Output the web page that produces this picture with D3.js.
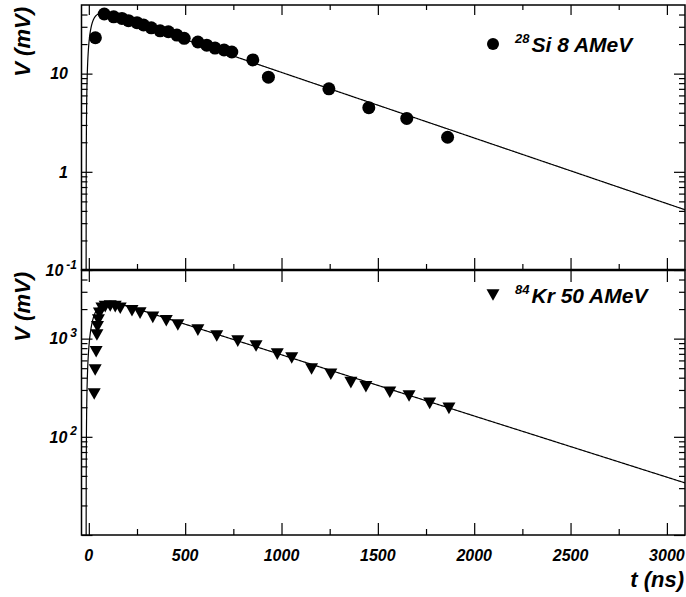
<!DOCTYPE html>
<html>
<head>
<meta charset="utf-8">
<script src="https://cdn.jsdelivr.net/npm/d3@7"></script>
<style>
  html, body { margin: 0; padding: 0; background: #fff; }
  svg { display: block; }
  text { font-family: "Liberation Sans", Arial, sans-serif; font-weight: bold; font-style: italic; fill: #000; }
</style>
</head>
<body>
<svg id="chart" width="686" height="597"></svg>
<script>
// ---- measured pulse heights ----
// 28Si at 8 AMeV
const siTime = [34, 80, 129, 172, 206, 250, 284, 324, 370, 413, 457, 495, 566, 612, 655, 702, 742, 851, 932, 1246, 1453, 1650, 1862];
const siVolt = [23.2, 40.5, 37.9, 36.5, 34.6, 33.0, 31.3, 29.3, 27.3, 26.7, 24.7, 22.9, 21.0, 19.5, 18.2, 17.4, 16.6, 13.8, 9.2, 7.0, 4.5, 3.5, 2.25];

// 84Kr at 50 AMeV
const krTime = [28, 33, 38, 42, 45, 50, 55, 68, 85, 111, 137, 163, 224, 266, 332, 402, 462, 566, 664, 773, 868, 978, 1053, 1156, 1256, 1360, 1438, 1562, 1662, 1769, 1869];
const krVolt = [273, 480, 736, 1090, 1320, 1546, 1810, 2040, 2116, 2150, 2116, 2040, 1925, 1820, 1645, 1520, 1375, 1222, 1062, 944, 840, 696, 634, 490, 433, 356, 324, 284, 260, 219, 195];

// fitted pulse shape: A * (exp(-(t-t0)/tauDecay) - exp(-(t-t0)/tauRise))
const siFit = [49, -14, 650, 25];     // A, t0, tauDecay, tauRise
const krFit = [2932, -14, 697, 40];

// axis ticks
const xMajor = [0, 500, 1000, 1500, 2000, 2500, 3000];
const xMinor = [250, 750, 1250, 1750, 2250, 2750];
const siDecades = [0.1, 1, 10];
const krDecades = [10, 100, 1000];
const siTickLabels = [{v: 10, base: "10", sup: ""}, {v: 1, base: "1", sup: ""}, {v: 0.1, base: "10", sup: "-1"}];
const krTickLabels = [{v: 1000, base: "10", sup: "3"}, {v: 100, base: "10", sup: "2"}];

const svg = d3.select("#chart");

const L = 81.5, R = 685, T = 5, MID = 270, B = 535;
const x = d3.scaleLinear().domain([-38, 3094]).range([L, R]);
const ySi = d3.scaleLog().domain([0.1, 50]).range([MID, T]);
const yKr = d3.scaleLog().domain([10, 5000]).range([B, MID]);

function minorLog(decades, top) {
  const out = [];
  decades.forEach(d => { for (let k = 2; k <= 9; k++) { const v = d * k; if (v < top * 0.999) out.push(v); } });
  return out;
}

function fitCurve(p, t) {
  const s = t - p[1];
  if (s <= 0) return 0;
  return p[0] * (Math.exp(-s / p[2]) - Math.exp(-s / p[3]));
}

function tickGroup(axis, tx, ty) {
  const g = svg.append("g").attr("transform", `translate(${tx},${ty})`).call(axis);
  g.select(".domain").remove();
  g.selectAll(".tick line").attr("stroke", "#000").attr("stroke-width", 1.2);
  g.selectAll(".tick text").remove();
  return g;
}

function panel(y, yTop, yBot, decades, topVal, topTicksFull, clipId) {
  const minor = minorLog(decades, topVal);
  // left / right log ticks
  tickGroup(d3.axisLeft(y).tickValues(decades).tickSize(-11), L, 0);
  tickGroup(d3.axisLeft(y).tickValues(minor).tickSize(-6), L, 0);
  tickGroup(d3.axisRight(y).tickValues(decades).tickSize(-11), R, 0);
  tickGroup(d3.axisRight(y).tickValues(minor).tickSize(-6), R, 0);
  // bottom ticks
  tickGroup(d3.axisBottom(x).tickValues(xMajor).tickSize(-12), 0, yBot);
  tickGroup(d3.axisBottom(x).tickValues(xMinor).tickSize(-6), 0, yBot);
  // top ticks
  if (topTicksFull) {
    tickGroup(d3.axisTop(x).tickValues(xMajor).tickSize(-10), 0, yTop);
    tickGroup(d3.axisTop(x).tickValues(xMinor).tickSize(-5), 0, yTop);
  } else {
    tickGroup(d3.axisTop(x).tickValues(xMajor).tickSize(-12), 0, yTop);
  }
  svg.append("clipPath").attr("id", clipId).append("rect")
    .attr("x", L).attr("y", yTop).attr("width", R - L).attr("height", yBot - yTop);
}

panel(ySi, T, MID, siDecades, 50, true, "clipSi");
panel(yKr, MID, B, krDecades, 5000, false, "clipKr");

// fit curves
const tSamples = d3.range(-13.99, -12, 0.01).concat(d3.range(-12, 40, 0.25)).concat(d3.range(40, 3100, 5));
function drawFit(p, y, clipId) {
  const line = d3.line()
    .defined(t => fitCurve(p, t) > 0)
    .x(t => x(t))
    .y(t => y(Math.max(fitCurve(p, t), 1e-6)));
  svg.append("path")
    .attr("clip-path", `url(#${clipId})`)
    .attr("d", line(tSamples))
    .attr("fill", "none").attr("stroke", "#000").attr("stroke-width", 1.2);
}
drawFit(siFit, ySi, "clipSi");
drawFit(krFit, yKr, "clipKr");

// markers
svg.append("g").selectAll("circle").data(siTime.map((t, i) => [t, siVolt[i]])).join("circle")
  .attr("cx", d => x(d[0])).attr("cy", d => ySi(d[1])).attr("r", 6.5).attr("fill", "#000");

const tri = "M-6.5,-5.8L6.5,-5.8L0,5.8Z";
svg.append("g").selectAll("path").data(krTime.map((t, i) => [t, krVolt[i]])).join("path")
  .attr("d", tri).attr("transform", d => `translate(${x(d[0])},${yKr(d[1])})`).attr("fill", "#000");

// frames
svg.append("rect").attr("x", L).attr("y", T).attr("width", R - L).attr("height", MID - T)
  .attr("fill", "none").attr("stroke", "#000").attr("stroke-width", 1.5);
svg.append("rect").attr("x", L).attr("y", MID).attr("width", R - L).attr("height", B - MID)
  .attr("fill", "none").attr("stroke", "#000").attr("stroke-width", 1.5);
svg.append("line").attr("x1", L).attr("x2", R).attr("y1", MID).attr("y2", MID)
  .attr("stroke", "#000").attr("stroke-width", 2.5);

// y tick labels
function yLabels(list, y) {
  list.forEach(d => {
    const t = svg.append("text").attr("font-size", 16).attr("text-anchor", "end")
      .attr("x", d.sup ? 77 : 68).attr("y", y(d.v)).attr("dy", "0.36em");
    t.append("tspan").text(d.base);
    if (d.sup) t.append("tspan").attr("font-size", 12).attr("dx", 3).attr("dy", "-0.6em").text(d.sup);
  });
}
yLabels(siTickLabels, ySi);
yLabels(krTickLabels, yKr);

// x tick labels
svg.append("g").selectAll("text").data(xMajor).join("text")
  .attr("x", d => x(d)).attr("y", 561).attr("text-anchor", "middle").attr("font-size", 16)
  .text(d => d);

// axis titles
svg.append("text").attr("transform", `translate(30,${T + 2}) rotate(-90)`)
  .attr("text-anchor", "end").attr("font-size", 22).text("V (mV)");
svg.append("text").attr("transform", `translate(30,${MID + 2}) rotate(-90)`)
  .attr("text-anchor", "end").attr("font-size", 22).text("V (mV)");
svg.append("text").attr("x", 684).attr("y", 587).attr("text-anchor", "end").attr("font-size", 22).text("t (ns)");

// legends
function legend(yc, label, iso) {
  const t = svg.append("text").attr("x", 515).attr("y", yc + 8).attr("font-size", 21);
  t.append("tspan").attr("font-size", 13).attr("dy", -9).text(iso);
  t.append("tspan").attr("dx", 2).attr("dy", 9).text(label);
}
svg.append("circle").attr("cx", 493).attr("cy", 44).attr("r", 6).attr("fill", "#000");
legend(44, "Si 8 AMeV", "28");
svg.append("path").attr("d", tri).attr("transform", "translate(493,295)").attr("fill", "#000");
legend(295, "Kr 50 AMeV", "84");
</script>
</body>
</html>
